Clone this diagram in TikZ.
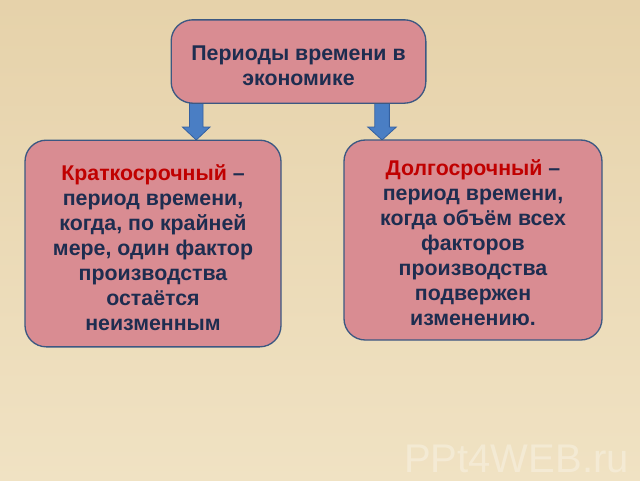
\documentclass[tikz,border=0pt]{standalone}
\usepackage{fontspec}
\setmainfont{Liberation Sans}
\definecolor{bgtop}{RGB}{230,210,170}
\definecolor{bgbot}{RGB}{240,226,195}
\definecolor{boxfill}{RGB}{217,140,146}
\definecolor{boxline}{RGB}{60,88,130}
\definecolor{txt}{RGB}{30,45,80}
\definecolor{hl}{RGB}{192,0,0}
\definecolor{arrfill}{RGB}{74,126,196}
\definecolor{arrline}{RGB}{52,96,160}
\tikzset{
  card/.style={draw=boxline, line width=1pt, fill=boxfill, rounded corners=16pt, inner sep=0pt},
  cardtext/.style={text=txt, font=\fontsize{16}{18.8}\selectfont\bfseries, align=center, inner sep=0pt},
  arrowshape/.style={draw=arrline, line width=0.6pt, fill=arrfill},
}
\begin{document}
\begin{tikzpicture}[x=0.75pt,y=-0.75pt]
\useasboundingbox (0,0) rectangle (640,480);
\shade[top color=bgtop, bottom color=bgbot] (0,0) rectangle (640,480);
% arrows
\coordinate (la) at (198.5,103);
\coordinate (ra) at (384.5,103);
\draw[arrowshape] ([xshift=-6.8]la) -- ++(0,24) -- ++(-7,0) -- ++(13.8,13) -- ++(13.8,-13) -- ++(-7,0) -- ++(0,-24) -- cycle;
\draw[arrowshape] ([xshift=-7.3]ra) -- ++(0,24) -- ++(-7,0) -- ++(14.3,13) -- ++(14.3,-13) -- ++(-7,0) -- ++(0,-24) -- cycle;
% boxes
\node[card, minimum width=191pt, minimum height=62.5pt] (top) at (298.5,61.5) {};
\node[cardtext] (toptext) at (298.5,65.5) {Периоды времени в\\экономике};
\node[card, minimum width=192pt, minimum height=155pt] (left) at (153,243.5) {};
\node[cardtext] (lefttext) at (153,247.5)
  {\textcolor{hl}{Краткосрочный} –\\период времени,\\когда, по крайней\\мере, один фактор\\производства\\остаётся\\неизменным};
\node[card, minimum width=193.5pt, minimum height=150pt] (right) at (473,240) {};
\node[cardtext] (righttext) at (473,242.5)
  {\textcolor{hl}{Долгосрочный} –\\период времени,\\когда объём всех\\факторов\\производства\\подвержен\\изменению.};
% watermark
\node[text=white, opacity=0.3, font=\fontsize{30}{30}\selectfont, anchor=base east, inner sep=0pt] (wm) at (629,472) {PPt4WEB.ru};
\end{tikzpicture}
\end{document}
